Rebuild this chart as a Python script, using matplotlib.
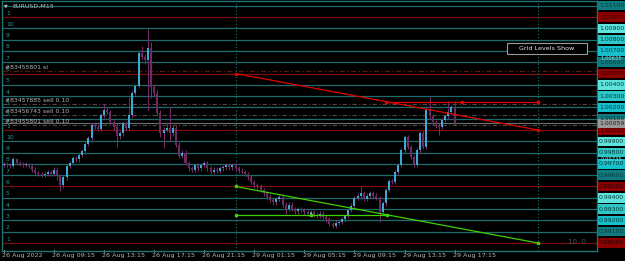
import matplotlib
matplotlib.use("Agg")
import matplotlib.pyplot as plt
import matplotlib.transforms as mtrans
from matplotlib.patches import Rectangle

BG = "#000000"
TEAL = "#1d6b6b"
RED = "#7d0c0c"
TXT = "#b4b4b4"
BULL = "#3fa8d6"
BEAR = "#6e2b62"
WICK = "#7a2c6c"

W, H = 625, 261

# ---------------------------------------------------------------- data (EURUSD M15)
FIRST_OPEN = 0.9969
CLOSE = [
    0.9970, 0.9969, 0.9968, 0.9974, 0.9971, 0.9970, 0.9969, 0.9970, 0.9968, 0.9965,
    0.9962, 0.9961, 0.9960, 0.9961, 0.9963, 0.9961, 0.9965, 0.9960, 0.9951, 0.9958,
    0.9968, 0.9971, 0.9975, 0.9974, 0.9978, 0.9981, 0.9988, 0.9993, 1.0004, 1.0003,
    1.0001, 1.0013, 1.0018, 1.0016, 1.0007, 1.0003, 0.9995, 0.9997, 1.0006, 1.0002,
    1.0013, 1.0033, 1.0039, 1.0068, 1.0065, 1.0062, 1.0073, 1.0038, 1.0033, 1.0015,
    0.9997, 1.0000, 1.0002, 0.9997, 1.0002, 0.9987, 0.9977, 0.9980, 0.9971, 0.9966,
    0.9965, 0.9969, 0.9966, 0.9969, 0.9971, 0.9966, 0.9963, 0.9965, 0.9964, 0.9966,
    0.9967, 0.9969, 0.9967, 0.9969, 0.9966, 0.9964, 0.9963, 0.9961, 0.9958, 0.9954,
    0.9951, 0.9950, 0.9947, 0.9944, 0.9941, 0.9938, 0.9936, 0.9939, 0.9941, 0.9934,
    0.9930, 0.9934, 0.9930, 0.9928, 0.9930, 0.9929, 0.9927, 0.9926, 0.9927, 0.9925,
    0.9924, 0.9926, 0.9923, 0.9921, 0.9917, 0.9915, 0.9918, 0.9919, 0.9921, 0.9924,
    0.9929, 0.9933, 0.9940, 0.9942, 0.9944, 0.9939, 0.9942, 0.9944, 0.9942, 0.9940,
    0.9927, 0.9935, 0.9947, 0.9955, 0.9954, 0.9963, 0.9969, 0.9982, 0.9994, 0.9985,
    0.9976, 0.9969, 0.9982, 0.9997, 0.9985, 1.0018, 1.0012, 1.0007, 1.0004, 1.0003,
    1.0009, 1.0012, 1.0016, 1.0020, 1.0006,
]
HIGH = [
    0.9972, 0.9972, 0.9971, 0.9976, 0.9975, 0.9973, 0.9972, 0.9972, 0.9971, 0.9970,
    0.9967, 0.9964, 0.9963, 0.9963, 0.9965, 0.9965, 0.9967, 0.9967, 0.9961, 0.9960,
    0.9970, 0.9973, 0.9977, 0.9977, 0.9980, 0.9983, 0.9990, 0.9995, 1.0006, 1.0007,
    1.0005, 1.0015, 1.0023, 1.0020, 1.0018, 1.0009, 1.0005, 0.9999, 1.0008, 1.0008,
    1.0029, 1.0035, 1.0041, 1.0070, 1.0074, 1.0067, 1.0089, 1.0078, 1.0041, 1.0035,
    1.0018, 1.0003, 1.0005, 1.0020, 1.0004, 1.0004, 0.9989, 0.9982, 0.9982, 0.9973,
    0.9968, 0.9971, 0.9971, 0.9971, 0.9973, 0.9973, 0.9968, 0.9967, 0.9967, 0.9968,
    0.9969, 0.9971, 0.9971, 0.9971, 0.9971, 0.9968, 0.9966, 0.9965, 0.9963, 0.9960,
    0.9956, 0.9953, 0.9952, 0.9949, 0.9946, 0.9943, 0.9940, 0.9941, 0.9943, 0.9943,
    0.9936, 0.9936, 0.9936, 0.9932, 0.9932, 0.9932, 0.9931, 0.9929, 0.9929, 0.9929,
    0.9927, 0.9928, 0.9928, 0.9925, 0.9923, 0.9919, 0.9920, 0.9921, 0.9923, 0.9926,
    0.9931, 0.9935, 0.9942, 0.9944, 0.9950, 0.9946, 0.9944, 0.9946, 0.9946, 0.9944,
    0.9942, 0.9937, 0.9949, 0.9957, 0.9957, 0.9965, 0.9971, 0.9984, 0.9996, 0.9996,
    0.9987, 0.9978, 0.9984, 0.9999, 0.9999, 1.0020, 1.0029, 1.0014, 1.0009, 1.0006,
    1.0011, 1.0014, 1.0026, 1.0022, 1.0026,
]
LOW = [
    0.9967, 0.9967, 0.9966, 0.9966, 0.9969, 0.9968, 0.9967, 0.9967, 0.9966, 0.9963,
    0.9960, 0.9959, 0.9958, 0.9958, 0.9959, 0.9959, 0.9959, 0.9956, 0.9946, 0.9949,
    0.9956, 0.9966, 0.9969, 0.9972, 0.9972, 0.9976, 0.9979, 0.9986, 0.9991, 1.0001,
    0.9999, 0.9999, 1.0011, 1.0014, 1.0005, 1.0000, 0.9985, 0.9992, 0.9995, 1.0000,
    1.0000, 1.0011, 1.0031, 1.0037, 1.0063, 1.0058, 1.0018, 1.0028, 1.0030, 1.0012,
    0.9994, 0.9984, 0.9998, 0.9990, 0.9995, 0.9985, 0.9975, 0.9975, 0.9969, 0.9964,
    0.9963, 0.9963, 0.9964, 0.9964, 0.9967, 0.9964, 0.9961, 0.9961, 0.9962, 0.9962,
    0.9964, 0.9965, 0.9965, 0.9965, 0.9964, 0.9962, 0.9961, 0.9959, 0.9956, 0.9952,
    0.9949, 0.9948, 0.9945, 0.9942, 0.9939, 0.9936, 0.9934, 0.9934, 0.9937, 0.9932,
    0.9926, 0.9928, 0.9928, 0.9926, 0.9926, 0.9927, 0.9925, 0.9924, 0.9924, 0.9923,
    0.9922, 0.9922, 0.9921, 0.9919, 0.9915, 0.9913, 0.9913, 0.9916, 0.9917, 0.9919,
    0.9922, 0.9927, 0.9931, 0.9938, 0.9940, 0.9937, 0.9937, 0.9940, 0.9940, 0.9938,
    0.9919, 0.9925, 0.9933, 0.9945, 0.9952, 0.9952, 0.9961, 0.9967, 0.9980, 0.9983,
    0.9974, 0.9967, 0.9967, 0.9980, 0.9983, 0.9983, 1.0010, 1.0004, 1.0002, 0.9996,
    1.0001, 1.0007, 1.0010, 1.0014, 1.0004,
]

GRID_LEVELS = [1.011, 1.010, 1.009, 1.008, 1.007, 1.006, 1.005, 1.004, 1.003, 1.002, 1.001,
               1.000, 0.999, 0.998, 0.997, 0.996, 0.995, 0.994, 0.993, 0.992, 0.991, 0.990]
GRID_TAGS = ["", "1", "10", "9", "8", "7", "6", "5", "4", "3", "2",
             "1", "10", "9", "8", "7", "6", "5", "4", "3", "2", "1"]
GRID_LABELS = ["1.01100", "1.01000", "1.00900", "1.00800", "1.00700", "1.00600", "1.00500",
               "1.00400", "1.00300", "1.00200", "1.00100", "1.00000", "0.99900", "0.99800",
               "0.99700", "0.99600", "0.99500", "0.99400", "0.99300", "0.99200", "0.99100",
               "0.99000"]
RED_LEVELS = [1.010, 1.005, 1.000, 0.995, 0.990]

ORDER_LEVELS = [1.00522, 1.00227, 1.00130, 1.00047]
ORDER_TEXT = ["#83455801 sl", "#83457885 sell 0.10", "#83456743 sell 0.10", "#83455801 sell 0.10"]
BID = 1.00059

TIME_POS = [0, 16, 32, 48, 64, 80, 96, 112, 128, 144]
TIME_LABELS = ["26 Aug 2022", "26 Aug 09:15", "26 Aug 13:15", "26 Aug 17:15", "26 Aug 21:15",
               "29 Aug 01:15", "29 Aug 05:15", "29 Aug 09:15", "29 Aug 13:15", "29 Aug 17:15"]

VLINES = [74, 170.6]
RED_TREND = ([74, 170.6], [1.0050, 1.0000])
RED_HLINE = ([122, 146.2, 170.6], [1.00245, 1.00245, 1.00245])
GREEN_TREND = ([74, 170.6], [0.9950, 0.9900])
GREEN_HLINE = ([74, 98.1, 122.3], [0.99248, 0.99248, 0.99248])

# box fill by last digit of the level (x.xx1 dark ... x.xx4 light), red on the 5s
BOX_COLORS = {0: "#8b0000", 1: "#0f7b80", 2: "#16bfca", 3: "#2ec6c6", 4: "#5ee4dc",
              5: "#8b0000", 6: "#0f7b80", 7: "#16bfca", 8: "#2ec6c6", 9: "#5ee4dc"}

# ---------------------------------------------------------------- figure
fig = plt.figure(figsize=(W / 100, H / 100), dpi=100)
fig.patch.set_facecolor(BG)
ax = fig.add_axes([2 / W, 10 / H, 595 / W, 250 / H])
ax.set_facecolor(BG)
ax.set_xlim(-0.64, 189.5)
ax.set_ylim(0.98929, 1.01142)
ax.set_xticks([]); ax.set_yticks([])
for s in ax.spines.values():
    s.set_color("#1f7474"); s.set_linewidth(1.0)

for lvl, tag in zip(GRID_LEVELS, GRID_TAGS):
    col = RED if lvl in RED_LEVELS else TEAL
    ax.axhline(lvl, color=col, lw=0.9, zorder=1)
    ax.text(0.6, lvl + 0.00013, tag, color="#3e8f8f", fontsize=4.4, va="bottom", ha="left")

ax.axhline(ORDER_LEVELS[0], color="#5c1a0a", lw=0.9, ls=(0, (4, 2, 1, 2)), zorder=1)
for lvl in ORDER_LEVELS[1:]:
    ax.axhline(lvl, color="#4a4a4a", lw=0.8, ls=(0, (4, 2, 1, 2)), zorder=1)
ax.axhline(BID, color="#6e6e6e", lw=0.8, zorder=1)
for lvl, t in zip(ORDER_LEVELS, ORDER_TEXT):
    ax.text(0.3, lvl + 0.0001, t, color=TXT, fontsize=4.4, va="bottom", ha="left")

for x in VLINES:
    ax.axvline(x, color="#1f7474", lw=0.8, ls=(0, (1, 2)), zorder=1)

# candles
opens = [FIRST_OPEN] + CLOSE[:-1]
for i, (o, h, l, c) in enumerate(zip(opens, HIGH, LOW, CLOSE)):
    ax.vlines(i, l, h, color=WICK, lw=0.7, zorder=2)
    lo, hi = min(o, c), max(o, c)
    if hi - lo < 0.00004:
        hi = lo + 0.00004
    ax.add_patch(Rectangle((i - 0.32, lo), 0.64, hi - lo, facecolor=BULL if c >= o else BEAR,
                           edgecolor="none", zorder=3))

# trend objects
for (xs, ys), col in ((RED_TREND, "#e00000"), (RED_HLINE, "#e00000"),
                      (GREEN_TREND, "#3fd100"), (GREEN_HLINE, "#3fd100")):
    ax.plot(xs, ys, color=col, lw=0.9, zorder=4, solid_capstyle="butt")
    ax.plot(xs, ys, ls="none", marker="s", ms=2.0, color=col, zorder=5)

# right price scale
tr = mtrans.blended_transform_factory(fig.transFigure, ax.transData)
for lvl, lab in zip(GRID_LEVELS, GRID_LABELS):
    d = int(round(lvl * 1000)) % 10
    fc = BOX_COLORS[d]
    fig.add_artist(Rectangle((598 / W, lvl - 0.00042), 27 / W, 0.00084, transform=tr,
                             facecolor=fc, edgecolor="none", zorder=3))
    tc = "#2a0000" if fc == "#8b0000" else "#06383a"
    fig.text(611.5 / W, lvl, lab, transform=tr, color=tc, fontsize=4.4,
             ha="center", va="center", zorder=6)
fig.text(611.5 / W, 1.00635, "1.00635", transform=tr, color="#9ad8d8", fontsize=3.8,
         ha="center", va="center", zorder=7)
fig.text(611.5 / W, 0.99735, "0.99735", transform=tr, color="#9ad8d8", fontsize=3.8,
         ha="center", va="center", zorder=7)
fig.add_artist(Rectangle((598 / W, BID - 0.0004), 27 / W, 0.0008, transform=tr,
                         facecolor="#9a9a9a", edgecolor="none", zorder=4))
fig.text(611.5 / W, BID, "1.00059", transform=tr, color="#202020", fontsize=4.4,
         ha="center", va="center", zorder=7)

# time axis
trx = mtrans.blended_transform_factory(ax.transData, fig.transFigure)
for p, lab in zip(TIME_POS, TIME_LABELS):
    ax.text(p - 0.6, 5 / H, lab, transform=trx, color=TXT, fontsize=4.6,
            ha="left", va="center", clip_on=False)
    ax.plot([p, p], [9 / H, 11 / H], transform=trx, color=TXT, lw=0.6, clip_on=False)

# header, button, corner text
fig.text(4 / W, 1 - 5.5 / H, "\u25bc", color=TXT, fontsize=3.5, va="center")
fig.text(12 / W, 1 - 6 / H, "EURUSD,M15", color=TXT, fontsize=4.6, va="center")
fig.add_artist(Rectangle((507 / W, 1 - 54 / H), 80 / W, 11 / H, transform=fig.transFigure,
                         facecolor=BG, edgecolor="#9a9a9a", lw=0.8))
fig.text(547 / W, 1 - 48.5 / H, "Grid Levels Show", color="#e8e8e8", fontsize=4.6,
         ha="center", va="center")
fig.text(586 / W, 1 - 242 / H, "10  0", color="#3a5a5a", fontsize=5, ha="right", va="center")

fig.savefig("out.png", dpi=100, facecolor=BG)
